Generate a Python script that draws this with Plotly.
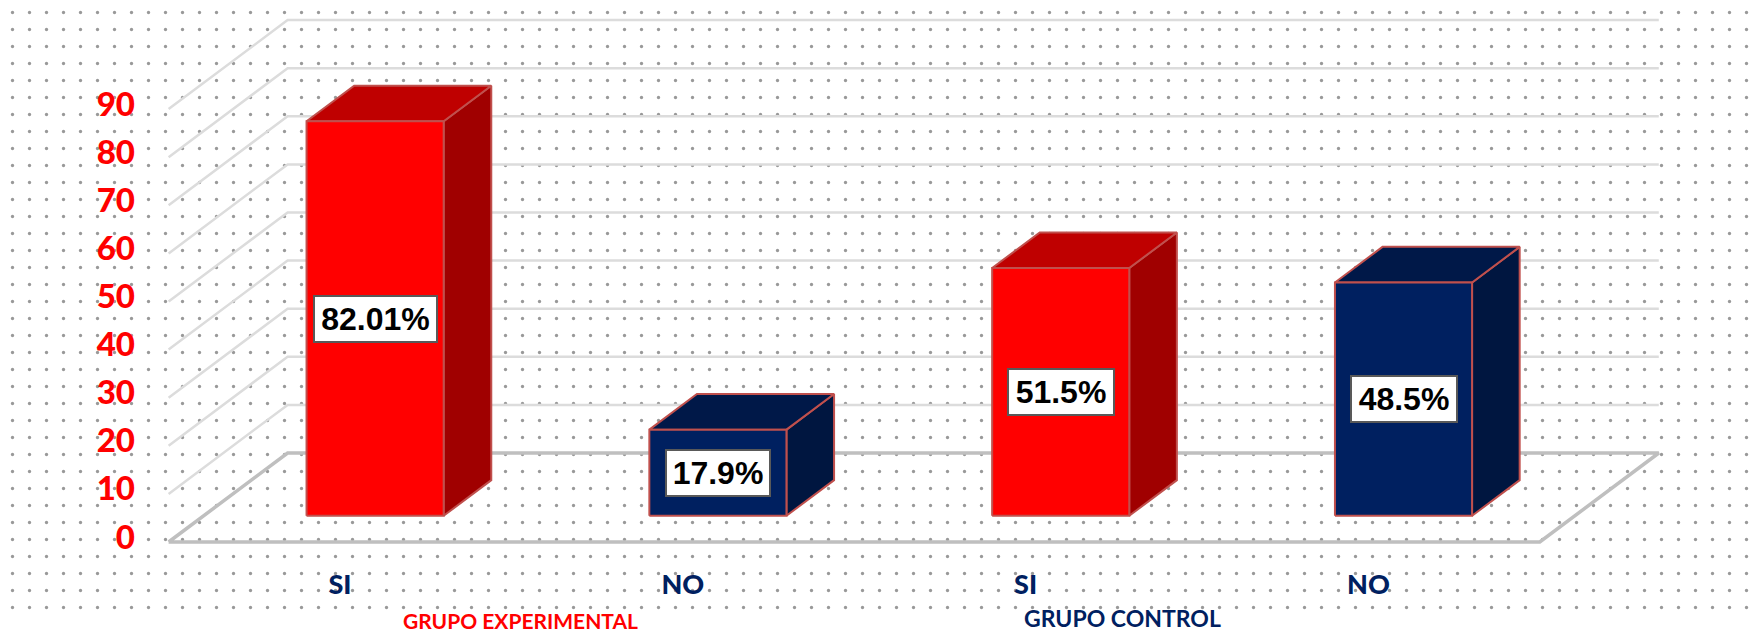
import plotly.graph_objects as go

# Values
categories = ['SI', 'NO', 'SI', 'NO']
values = [82.01, 17.9, 51.5, 48.5]
bar_labels = ['82.01%', '17.9%', '51.5%', '48.5%']
bar_groups = ['red', 'navy', 'red', 'navy']
y_ticks = [0, 10, 20, 30, 40, 50, 60, 70, 80, 90]

COLORS = {
    'red': {'front': '#FF0000', 'top': '#BF0000', 'side': '#A00000'},
    'navy': {'front': '#002060', 'top': '#001848', 'side': '#001640'},
    'edge': '#C0504D',
    'grid': '#DCDCDC',
    'floor': '#BFBFBF',
    'dots': '#333333',
    'navy_text': '#002060',
    'red_text': '#FF0000',
}

WIDTH, HEIGHT = 1757, 632
ML, MT = 4, 4  # keeps the dot texture in phase with the picture

# Axis scales: pixels per category and per 1 unit of value
PX_CAT = 342.8
PX_VAL = 4.81
X0_PX, Y0_PX = 340, 542  # where category 0 / value 0 fall
DOTS_END_PX = 611

# Oblique projection of the floor depth, in axis units
DEPTH_X = 119 / PX_CAT
DEPTH_Y = 89 / PX_VAL
BAR_WIDTH = 0.4
BAR_D0, BAR_D1 = 0.295, 0.695
BOX_WIDTHS = [113, 94, 96, 96]

x_range = [(ML - X0_PX) / PX_CAT, (WIDTH - X0_PX) / PX_CAT]
y_range = [(Y0_PX - HEIGHT) / PX_VAL, (Y0_PX - MT) / PX_VAL]


def project(x, y, depth):
    return x + depth * DEPTH_X, y + depth * DEPTH_Y


def poly(points):
    pts = [project(*p) for p in points]
    pts.append(pts[0])
    return [p[0] for p in pts], [p[1] for p in pts]


fig = go.Figure()

# Dotted page background
dots_base = (Y0_PX - DOTS_END_PX) / PX_VAL
fig.add_trace(go.Bar(
    x=[sum(x_range) / 2], y=[y_range[1] - dots_base], base=[dots_base],
    width=[x_range[1] - x_range[0]],
    marker=dict(
        color='white', line_width=0,
        pattern=dict(shape='.', size=17, solidity=0.03, fgcolor=COLORS['dots'], bgcolor='white'),
    ),
    hoverinfo='skip',
))

# Gridlines run along the left wall, then across the back wall
for tick in y_ticks[1:]:
    pts = [project(-0.5, tick, 0), project(-0.5, tick, 1), project(3.5, tick, 1)]
    fig.add_trace(go.Scatter(
        x=[p[0] for p in pts], y=[p[1] for p in pts], mode='lines',
        line=dict(color=COLORS['grid'], width=2.5), hoverinfo='skip',
    ))

# Floor
fx, fy = poly([(-0.5, 0, 0), (-0.5, 0, 1), (3.5, 0, 1), (3.5, 0, 0)])
fig.add_trace(go.Scatter(
    x=fx, y=fy, mode='lines',
    line=dict(color=COLORS['floor'], width=3.5), hoverinfo='skip',
))

# 3D bars: side, top and front faces
for i, (value, group) in enumerate(zip(values, bar_groups)):
    left, right = i - BAR_WIDTH / 2, i + BAR_WIDTH / 2
    faces = [
        ('side', [(right, 0, BAR_D0), (right, 0, BAR_D1), (right, value, BAR_D1), (right, value, BAR_D0)]),
        ('top', [(left, value, BAR_D0), (left, value, BAR_D1), (right, value, BAR_D1), (right, value, BAR_D0)]),
        ('front', [(left, 0, BAR_D0), (left, value, BAR_D0), (right, value, BAR_D0), (right, 0, BAR_D0)]),
    ]
    for face, points in faces:
        px, py = poly(points)
        fig.add_trace(go.Scatter(
            x=px, y=py, mode='lines', fill='toself',
            fillcolor=COLORS[group][face],
            line=dict(color=COLORS['edge'], width=2),
            hovertemplate=f'{categories[i]}: {value}<extra></extra>',
        ))

# Value boxes centred on the front faces
for i, (value, label) in enumerate(zip(values, bar_labels)):
    ax, ay = project(i, value / 2, BAR_D0)
    fig.add_annotation(
        x=ax, y=ay, text=f'<b>{label}</b>', showarrow=False, width=BOX_WIDTHS[i],
        font=dict(family='Liberation Sans', size=32, color='black'),
        bgcolor='white', bordercolor='#595959', borderwidth=2, borderpad=4,
    )

# Group captions
fig.add_annotation(
    x=(520 - ML) / (WIDTH - ML), y=(HEIGHT - 620) / (HEIGHT - MT), xref='paper', yref='paper',
    xanchor='center', yanchor='middle',
    text='<b>GRUPO EXPERIMENTAL</b>', showarrow=False,
    font=dict(family='Lato', size=21, color=COLORS['red_text']),
)
fig.add_annotation(
    x=(1122 - ML) / (WIDTH - ML), y=(HEIGHT - 618) / (HEIGHT - MT), xref='paper', yref='paper',
    xanchor='center', yanchor='middle',
    text='<b>GRUPO CONTROL</b>', showarrow=False,
    font=dict(family='Lato', size=23, color=COLORS['navy_text']),
)

fig.update_layout(
    width=WIDTH, height=HEIGHT,
    margin=dict(l=ML, r=0, t=MT, b=0, pad=0),
    paper_bgcolor='white', plot_bgcolor='rgba(0,0,0,0)',
    showlegend=False, barmode='overlay',
)
fig.update_xaxes(
    range=x_range, anchor='free', position=(HEIGHT - Y0_PX) / (HEIGHT - MT),
    tickmode='array', tickvals=list(range(len(categories))), ticktext=categories,
    tickfont=dict(family='Lato', size=27, color=COLORS['navy_text'], weight=900),
    ticklabelstandoff=24, showgrid=False, zeroline=False, showline=False, ticks='',
)
fig.update_yaxes(
    range=y_range, anchor='free', position=(168 - ML) / (WIDTH - ML),
    tickmode='array', tickvals=y_ticks,
    tickfont=dict(family='Lato', size=33, color=COLORS['red_text'], weight=900),
    ticklabelstandoff=33, ticklabelshift=-5,
    showgrid=False, zeroline=False, showline=False, ticks='',
)

fig.write_html("out.html", config={'displayModeBar': False},
               post_script="document.body.style.margin='0'")
